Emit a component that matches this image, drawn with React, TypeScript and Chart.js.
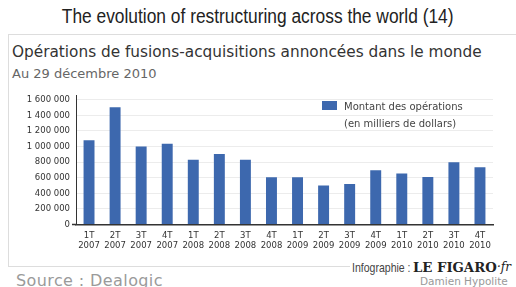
import React, { useEffect, useRef } from "react";
import { Chart, registerables } from "chart.js";

Chart.register(...registerables);

const categories: string[][] = [
  ["1T", "2007"], ["2T", "2007"], ["3T", "2007"], ["4T", "2007"],
  ["1T", "2008"], ["2T", "2008"], ["3T", "2008"], ["4T", "2008"],
  ["1T", "2009"], ["2T", "2009"], ["3T", "2009"], ["4T", "2009"],
  ["1T", "2010"], ["2T", "2010"], ["3T", "2010"], ["4T", "2010"],
];
const montant: number[] = [
  1080000, 1505000, 1000000, 1035000, 830000, 905000, 830000, 605000,
  605000, 500000, 520000, 695000, 655000, 610000, 800000, 735000,
];
const yTicks: number[] = [0, 200000, 400000, 600000, 800000, 1000000, 1200000, 1400000, 1600000];
const seriesLabel = "Montant des opérations";
const seriesUnit = "(en milliers de dollars)";
const barColor = "#3d68ae";

const fmt = (v: number) => String(v).replace(/\B(?=(\d{3})+(?!\d))/g, " ");

export default function App() {
  const ref = useRef<HTMLCanvasElement | null>(null);
  useEffect(() => {
    if (!ref.current) return;
    const zeroTick = {
      id: "zeroTick",
      afterDraw(chart: any) {
        const ctx = chart.ctx;
        const y = chart.scales.y.getPixelForValue(0);
        const left = chart.chartArea.left;
        ctx.save();
        ctx.strokeStyle = "#333";
        ctx.lineWidth = 1.5;
        ctx.beginPath();
        ctx.moveTo(left - 4, y);
        ctx.lineTo(left, y);
        ctx.stroke();
        ctx.restore();
      },
    };
    const chart = new Chart(ref.current, {
      type: "bar",
      data: {
        labels: categories,
        datasets: [
          {
            label: seriesLabel,
            data: montant,
            backgroundColor: barColor,
            barPercentage: 0.84,
            categoryPercentage: 0.5,
          },
        ],
      },
      options: {
        responsive: false,
        animation: false,
        layout: { padding: { top: 0, left: 0, right: 23, bottom: 0 } },
        plugins: { legend: { display: false }, tooltip: { enabled: false }, title: { display: false } },
        scales: {
          x: {
            grid: { display: false, drawTicks: false },
            border: { color: "#333", width: 1.5 },
            ticks: {
              color: "#333",
              font: { family: "DejaVu Sans", size: 8.5 },
              padding: 6,
              maxRotation: 0,
              autoSkip: false,
            },
            afterFit(scale: any) {
              scale.height = 30.5;
            },
          },
          y: {
            min: 0,
            max: 1660000,
            afterBuildTicks(scale: any) {
              scale.ticks = yTicks.map((v) => ({ value: v }));
            },
            grid: { color: "#ececec", drawTicks: false, lineWidth: 1 },
            border: { color: "#333", width: 1 },
            ticks: {
              color: "#333",
              font: { family: "DejaVu Sans", size: 8.5 },
              padding: 6,
              callback: (v: any) => fmt(Number(v)),
            },
            afterFit(scale: any) {
              scale.width = 76;
            },
          },
        },
      },
      plugins: [zeroTick],
    });
    return () => chart.destroy();
  }, []);

  const abs = (s: React.CSSProperties): React.CSSProperties => ({ position: "absolute", whiteSpace: "nowrap", ...s });

  return (
    <div style={{ position: "absolute", left: 0, top: 0, width: 516, height: 287, background: "#fff", overflow: "hidden" }}>
      <div style={abs({ left: 0, width: 516, top: 5, textAlign: "center", lineHeight: "23px" })}>
        <span style={{ display: "inline-block", transform: "scaleX(0.868)", transformOrigin: "center", fontFamily: "Liberation Sans", fontSize: 20, color: "#222" }}>
          The evolution of restructuring across the world (14)
        </span>
      </div>
      <div style={{ position: "absolute", left: 8, top: 34, width: 520, height: 232, borderTop: "1px solid #ddd", borderLeft: "1px solid #ddd" }} />
      <div style={{ position: "absolute", left: 8, top: 266, width: 342, borderTop: "1px solid #ddd" }} />
      <div style={abs({ left: 12, top: 42, fontFamily: "DejaVu Sans", fontSize: 15.3, color: "#333", lineHeight: "20px" })}>
        Opérations de fusions-acquisitions annoncées dans le monde
      </div>
      <div style={abs({ left: 12, top: 66, fontFamily: "DejaVu Sans", fontSize: 13, color: "#666", lineHeight: "16px" })}>
        Au 29 décembre 2010
      </div>
      <canvas ref={ref} width={516} height={171} style={{ position: "absolute", left: 0, top: 84, width: 516, height: 171 }} />
      <div style={{ position: "absolute", left: 322, top: 101, width: 15, height: 9, background: barColor }} />
      <div style={abs({ left: 344, top: 98, fontFamily: "DejaVu Sans", fontSize: 10, color: "#444", lineHeight: "17px" })}>
        {seriesLabel}
        <br />
        {seriesUnit}
      </div>
      <div style={abs({ left: 16, top: 271, fontFamily: "DejaVu Sans", fontSize: 16, letterSpacing: 0.4, color: "#9a9a9a", lineHeight: "20px" })}>
        Source : Dealogic
      </div>
      <div style={abs({ left: 352, top: 257, lineHeight: "20px", color: "#444" })}>
        <span style={{ display: "inline-block", transform: "scaleX(0.78)", transformOrigin: "left", fontFamily: "Liberation Sans", fontSize: 13.5 }}>Infographie :</span>
      </div>
      <div style={abs({ left: 413, top: 257, lineHeight: "20px", color: "#222" })}>
        <span style={{ display: "inline-block", transform: "scaleX(0.98)", transformOrigin: "left", fontFamily: "DejaVu Serif", fontWeight: "bold", fontSize: 13.5 }}>LE FIGARO</span>
      </div>
      <div style={abs({ left: 497, top: 257, lineHeight: "20px", color: "#222", fontFamily: "DejaVu Serif", fontStyle: "italic", fontSize: 12 })}>
        ·fr
      </div>
      <div style={abs({ left: 420, top: 274, fontFamily: "DejaVu Sans", fontSize: 10.5, color: "#999", lineHeight: "14px" })}>
        Damien Hypolite
      </div>
    </div>
  );
}
